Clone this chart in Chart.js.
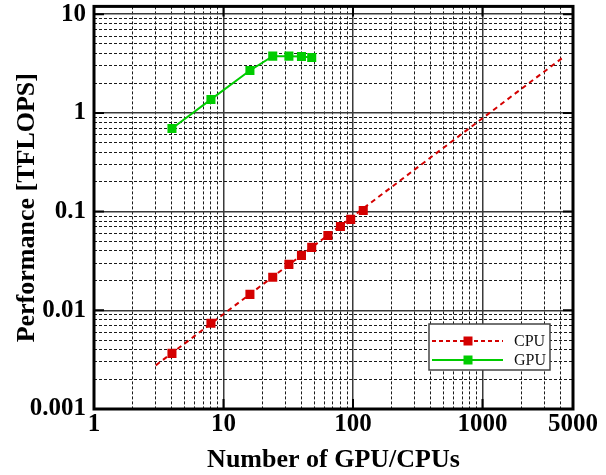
<!DOCTYPE html>
<html><head><meta charset="utf-8">
<script src="https://cdn.jsdelivr.net/npm/chart.js@4/dist/chart.umd.min.js"></script>
<style>html,body{margin:0;padding:0;background:#fff;overflow:hidden}</style>
</head><body>
<canvas id="c" width="606" height="475"></canvas>
<script>
// ---- data ----
const cpuCounts = [4, 8, 16, 24, 32, 40, 48, 64, 80, 96, 120];
const cpuTflops = [0.00366, 0.00738, 0.0145, 0.0216, 0.0292, 0.036, 0.0434, 0.0574, 0.0708, 0.0834, 0.1028];
const cpuTrendCounts = [3, 4300];
const cpuTrendTflops = [0.00277, 3.75];
const gpuCounts = [4, 8, 16, 24, 32, 40, 48];
const gpuTflops = [0.695, 1.37, 2.69, 3.76, 3.76, 3.73, 3.65];
const xTickLabels = [1, 10, 100, 1000, 5000];
const yTickLabels = [0.001, 0.01, 0.1, 1, 10];
const seriesNames = ['CPU', 'GPU'];
const xTitle = 'Number of GPU/CPUs';
const yTitle = 'Performance [TFLOPS]';

const RED = '#d40000', GREEN = '#00cc00';
const SERIF = '"Liberation Serif", "Times New Roman", serif';

function logTicks(min, max) {
  const out = [];
  for (let e = Math.floor(Math.log10(min)); e <= Math.ceil(Math.log10(max)); e++) {
    for (let m = 1; m <= 9; m++) {
      const v = m * Math.pow(10, e);
      if (v >= min * 0.9999 && v <= max * 1.0001) out.push({ value: v });
    }
  }
  return out;
}
function isMajor(v) { const l = Math.log10(v); return Math.abs(l - Math.round(l)) < 1e-9; }
function inList(v, list) { return list.some(l => Math.abs(v / l - 1) < 1e-9); }
function fmt(v) { return String(+v.toPrecision(6)); }

const pts = (xs, ys) => xs.map((x, i) => ({ x, y: ys[i] }));

const gridOpts = {
  color: c => (c.tick && isMajor(c.tick.value)) ? '#3a3a3a' : '#1a1a1a',
  lineWidth: c => (c.tick && isMajor(c.tick.value)) ? 1.5 : 1,
  drawTicks: false
};
const borderOpts = {
  display: false,
  dash: c => (c.tick && isMajor(c.tick.value)) ? [] : [3, 2]
};

const framePlugin = {
  id: 'frame',
  afterDraw(chart) {
    const { ctx, chartArea: a, scales } = chart;
    ctx.save();
    ctx.strokeStyle = '#000';
    ctx.lineWidth = 2;
    ctx.setLineDash([]);
    scales.x.ticks.forEach(t => {
      if (!isMajor(t.value)) return;
      const px = scales.x.getPixelForValue(t.value);
      ctx.beginPath(); ctx.moveTo(px, a.bottom); ctx.lineTo(px, a.bottom - 10);
      ctx.moveTo(px, a.top); ctx.lineTo(px, a.top + 10); ctx.stroke();
    });
    scales.y.ticks.forEach(t => {
      if (!isMajor(t.value)) return;
      const py = scales.y.getPixelForValue(t.value);
      ctx.beginPath(); ctx.moveTo(a.left, py); ctx.lineTo(a.left + 10, py);
      ctx.moveTo(a.right, py); ctx.lineTo(a.right - 10, py); ctx.stroke();
    });
    ctx.lineWidth = 3;
    ctx.strokeRect(a.left, a.top, a.right - a.left, a.bottom - a.top);
    ctx.restore();
  }
};

const legendPlugin = {
  id: 'boxLegend',
  afterDraw(chart) {
    const { ctx, chartArea: a } = chart;
    const bx = a.right - 144, by = a.bottom - 85, bw = 121, bh = 46;
    ctx.save();
    ctx.fillStyle = '#fff';
    ctx.fillRect(bx, by, bw, bh);
    ctx.strokeStyle = '#444';
    ctx.lineWidth = 1.5;
    ctx.strokeRect(bx, by, bw, bh);
    const rows = [
      { label: seriesNames[0], color: RED, dash: [4, 3], y: by + 17 },
      { label: seriesNames[1], color: GREEN, dash: [], y: by + 36 }
    ];
    rows.forEach(r => {
      ctx.strokeStyle = r.color; ctx.lineWidth = 2; ctx.setLineDash(r.dash);
      ctx.beginPath(); ctx.moveTo(bx + 3, r.y); ctx.lineTo(bx + 74, r.y); ctx.stroke();
      ctx.setLineDash([]);
      ctx.fillStyle = r.color; ctx.fillRect(bx + 39 - 4.5, r.y - 4.5, 9, 9);
      ctx.fillStyle = '#111'; ctx.font = '16px ' + SERIF;
      ctx.textAlign = 'left'; ctx.textBaseline = 'middle';
      ctx.fillText(r.label, bx + 85, r.y + 1);
    });
    ctx.restore();
  }
};

new Chart(document.getElementById('c'), {
  type: 'line',
  data: {
    datasets: [
      { label: seriesNames[0] + ' trend', data: pts(cpuTrendCounts, cpuTrendTflops),
        borderColor: RED, borderWidth: 2, borderDash: [5, 4], pointRadius: 0, fill: false },
      { label: seriesNames[0], data: pts(cpuCounts, cpuTflops), showLine: false,
        pointStyle: 'rect', pointRadius: 6.4, pointBorderWidth: 0,
        pointBackgroundColor: RED, borderColor: RED },
      { label: seriesNames[1], data: pts(gpuCounts, gpuTflops),
        borderColor: GREEN, borderWidth: 2, pointStyle: 'rect', pointRadius: 6.4,
        pointBorderWidth: 0, pointBackgroundColor: GREEN, fill: false, tension: 0 }
    ]
  },
  options: {
    responsive: false, animation: false, devicePixelRatio: 1,
    layout: { padding: { top: 6, right: 33, bottom: 0, left: 0 } },
    plugins: { legend: { display: false }, tooltip: { enabled: false } },
    scales: {
      x: {
        type: 'logarithmic', min: 1, max: 5000,
        afterBuildTicks: s => { s.ticks = logTicks(1, 5000); },
        afterFit: s => { s.height = 66; s.paddingLeft = 0; s.paddingRight = 0; },
        grid: gridOpts, border: borderOpts,
        ticks: {
          autoSkip: false, maxRotation: 0, padding: 3, color: '#000',
          font: { family: SERIF, size: 25, weight: 'bold', lineHeight: 1 },
          callback: v => inList(v, xTickLabels) ? fmt(v) : ''
        },
        title: { display: true, text: xTitle, color: '#000', padding: { top: 0, bottom: 2 },
          font: { family: SERIF, size: 26, weight: 'bold', lineHeight: 1 } }
      },
      y: {
        type: 'logarithmic', min: 0.001, max: 12,
        afterBuildTicks: s => { s.ticks = logTicks(0.001, 12); },
        afterFit: s => { s.width = 94; s.paddingTop = 0; s.paddingBottom = 0; },
        grid: gridOpts, border: borderOpts,
        ticks: {
          autoSkip: false, padding: 8, color: '#000',
          font: { family: SERIF, size: 25, weight: 'bold', lineHeight: 0.4 },
          callback: v => inList(v, yTickLabels) ? fmt(v) : ''
        },
        title: { display: true, text: yTitle, color: '#000', padding: { top: 14.5, bottom: 0 },
          font: { family: SERIF, size: 26, weight: 'bold', lineHeight: 1 } }
      }
    }
  },
  plugins: [framePlugin, legendPlugin]
});
</script>
</body></html>
